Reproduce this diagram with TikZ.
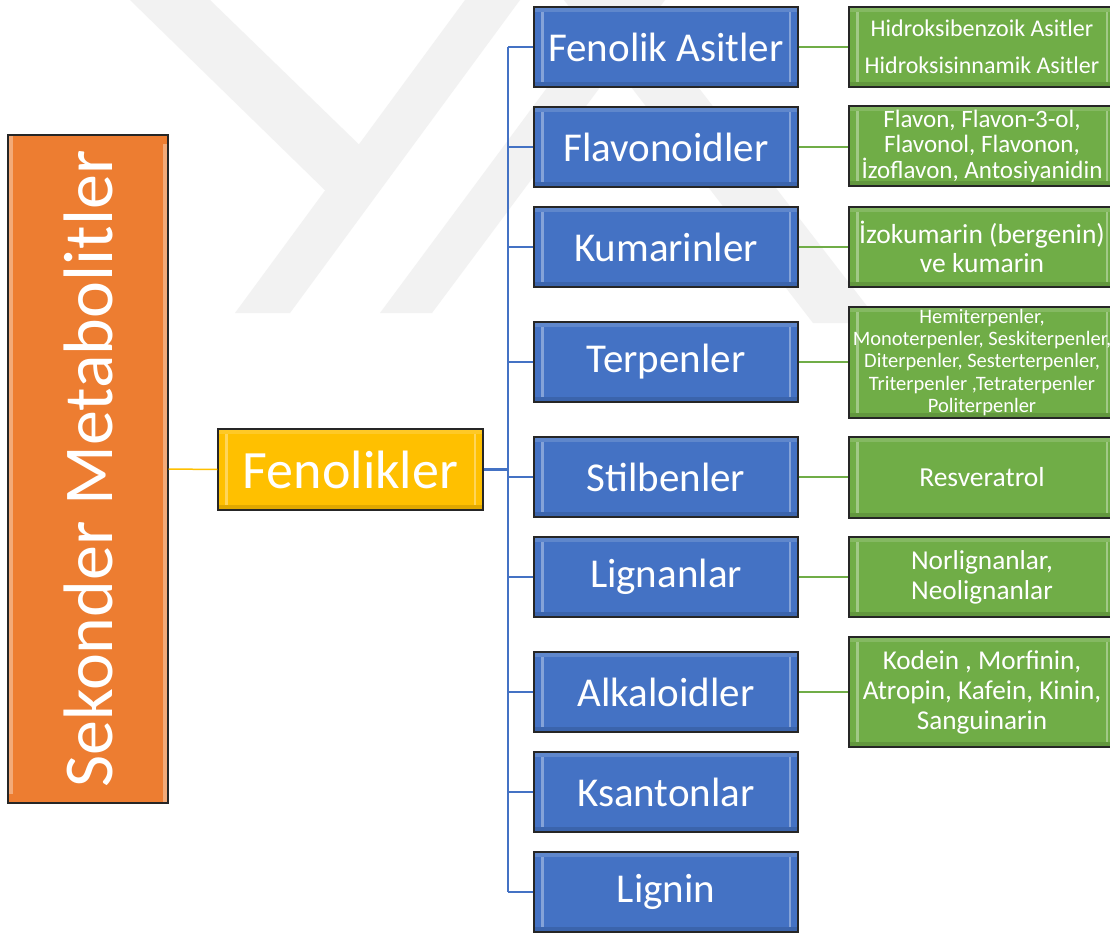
\documentclass[tikz,border=0pt]{standalone}
\usepackage{fontspec}
\setmainfont{Carlito}
\definecolor{orgfill}{HTML}{ED7D31}
\definecolor{yelfill}{HTML}{FFC000}
\definecolor{bluefill}{HTML}{4472C4}
\definecolor{greenfill}{HTML}{70AD47}
\definecolor{wmark}{HTML}{F2F2F2}
\tikzset{
  bevel/.style={path picture={
    \fill[white,opacity=.35] ([xshift=7pt,yshift=-5pt]path picture bounding box.north west)
      rectangle ([xshift=9.5pt,yshift=5pt]path picture bounding box.south west);
    \fill[white,opacity=.35] ([xshift=-9.5pt,yshift=-5pt]path picture bounding box.north east)
      rectangle ([xshift=-7pt,yshift=5pt]path picture bounding box.south east);
    \fill[white,opacity=.15] (path picture bounding box.north west)
      rectangle ([yshift=-5pt]path picture bounding box.north east);
    \fill[black,opacity=.12] (path picture bounding box.south west)
      rectangle ([yshift=5pt]path picture bounding box.south east);
  }},
  box/.style={draw=black!85, line width=1.2pt, text=white, align=center,
    inner sep=0pt, bevel},
  catbox/.style={box, fill=bluefill, minimum width=264pt, minimum height=80pt,
    font=\fontsize{41}{41}\selectfont},
  itembox/.style={box, fill=greenfill, minimum width=266pt},
  blueline/.style={draw=bluefill, line width=1.5pt},
  greenline/.style={draw=greenfill, line width=1.5pt},
}
\begin{document}
\begin{tikzpicture}[x=1pt,y=-1pt]
\useasboundingbox (0,0) rectangle (1110,933);
\clip (0,0) rectangle (1110,933);
\fill[white] (0,0) rectangle (1110,933);

% faint background logo
\fill[wmark] (130,0) -- (210,0) -- (375,160) -- (335,200) -- cycle;
\fill[wmark] (235,313) -- (290,313) -- (520,0) -- (465,0) -- cycle;
\fill[wmark] (380,313) -- (432,313) -- (665,0) -- (612,0) -- cycle;
\fill[wmark] (564,0) -- (631,0) -- (880,323) -- (813,323) -- cycle;

% main nodes
\node[box, fill=orgfill, rotate=90, minimum width=668pt, minimum height=160pt,
  font=\fontsize{70}{70}\selectfont] (sm) at (88,469) {Sekonder Metabolitler};
\node[box, fill=yelfill, minimum width=265pt, minimum height=81pt,
  font=\fontsize{54}{54}\selectfont] (fen) at (350.5,469.5) {Fenolikler};

% categories
\node[catbox] (fa) at (666,47) {Fenolik Asitler};
\node[catbox] (fl) at (666,147) {Flavonoidler};
\node[catbox] (ku) at (666,247) {Kumarinler};
\node[catbox] (te) at (666,362) {Terpenler};
\node[catbox] (st) at (666,477) {Stilbenler};
\node[catbox] (lg) at (666,577) {Lignanlar};
\node[catbox] (al) at (666,692) {Alkaloidler};
\node[catbox] (ks) at (666,792) {Ksantonlar};
\node[catbox] (li) at (666,892) {Lignin};

% examples
\node[itembox, minimum height=80pt, font=\fontsize{24}{26}\selectfont] (g1) at (982,47)
  {Hidroksibenzoik Asitler\\[11pt]Hidroksisinnamik Asitler};
\node[itembox, minimum height=80pt, font=\fontsize{25}{25.5}\selectfont] (g2) at (982,146)
  {Flavon, Flavon-3-ol,\\Flavonol, Flavonon,\\İzoflavon, Antosiyanidin};
\node[itembox, minimum height=80pt, font=\fontsize{27.5}{29}\selectfont] (g3) at (982,247)
  {İzokumarin (bergenin)\\ve kumarin};
\node[itembox, minimum height=111pt, font=\fontsize{20.5}{22.3}\selectfont] (g4) at (982,362.5)
  {Hemiterpenler,\\Monoterpenler, Seskiterpenler,\\Diterpenler, Sesterterpenler,\\Triterpenler ,Tetraterpenler\\Politerpenler};
\node[itembox, minimum height=81pt, font=\fontsize{27.5}{29}\selectfont] (g5) at (982,477.5)
  {Resveratrol};
\node[itembox, minimum height=80pt, font=\fontsize{27.3}{30}\selectfont] (g6) at (982,577)
  {Norlignanlar,\\Neolignanlar};
\node[itembox, minimum height=110pt, font=\fontsize{27.2}{30}\selectfont] (g7) at (982,692)
  {Kodein , Morfinin,\\Atropin, Kafein, Kinin,\\Sanguinarin};

% connectors
\coordinate (trunk) at (508,469.5);
\draw[draw=yelfill, line width=1.5pt] (sm.south) -- (fen.west);
\draw[draw=bluefill, line width=2.5pt] (fen.east) -- (trunk);
\draw[blueline] (trunk |- fa.west) -- (trunk |- li.west);
\foreach \n in {fa,fl,ku,te,st,lg,al,ks,li}
  \draw[blueline] (trunk |- \n.west) -- (\n.west);
\foreach \a/\b in {fa/g1,fl/g2,ku/g3,te/g4,st/g5,lg/g6,al/g7}
  \draw[greenline] (\a.east) -- (\a.east -| \b.west);
\end{tikzpicture}
\end{document}
